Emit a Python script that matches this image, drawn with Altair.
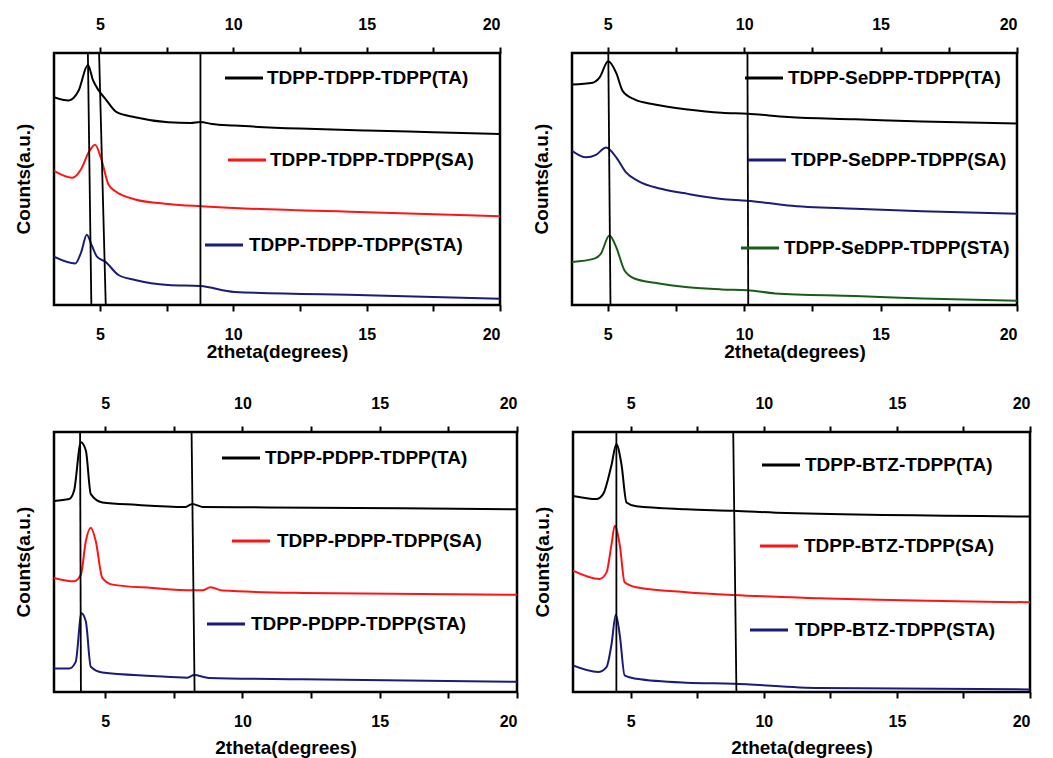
import altair as alt
import pandas as pd

FONT = "Liberation Sans"
BLACK = "#000000"
RED = "#ff1414"
NAVY = "#1b1b78"
GREEN = "#1a5c1a"

# ---------------- Panel 1: TDPP-TDPP-TDPP ----------------
p1_ta_x = [3.28, 3.83, 4.2, 4.55, 4.75, 4.95, 5.2, 5.63, 6.32, 7.56, 8.4, 8.77, 9.2, 10.04, 12.5, 15, 17.5, 20]
p1_ta_y = [82.5, 81.2, 85, 95.2, 89, 85.2, 81.9, 76.5, 74.5, 72.5, 72.2, 72.6, 71.8, 71.2, 70.0, 69.2, 68.6, 67.9]
p1_sa_x = [3.28, 3.96, 4.3, 4.6, 4.82, 5.05, 5.32, 5.57, 6.32, 7.56, 8.77, 10.04, 15, 20]
p1_sa_y = [53.2, 50.5, 54, 61, 63.6, 58, 47.9, 45.2, 41.9, 40.1, 39.2, 38.5, 36.8, 35.2]
p1_sta_x = [3.28, 4.08, 4.3, 4.51, 4.7, 4.89, 5.2, 5.7, 6.32, 7.56, 8.77, 10.04, 15, 20]
p1_sta_y = [19.2, 16.5, 21, 27.9, 23.5, 19.2, 17.2, 11.9, 9.9, 7.9, 7.5, 5.2, 3.9, 2.5]
p1_vline_top = [4.55, 4.97, 8.77]
p1_vline_bot = [4.68, 5.22, 8.77]

# ---------------- Panel 2: TDPP-SeDPP-TDPP ----------------
p2_ta_x = [3.69, 4.45, 4.69, 5.02, 5.31, 5.55, 5.98, 6.72, 7.94, 9.17, 10.12, 11.6, 14.07, 16.52, 20]
p2_ta_y = [87.5, 88.2, 90.1, 96.7, 92.1, 84.9, 81.6, 79.6, 77.6, 76.3, 75.9, 74.6, 73.7, 72.8, 72.0]
p2_sa_x = [3.69, 4.2, 4.57, 4.94, 5.31, 5.67, 6.1, 6.96, 7.94, 9.17, 10.12, 11.6, 14.07, 16.52, 20]
p2_sa_y = [61.2, 58.6, 59.6, 62.5, 58.6, 52.6, 49.3, 46.1, 44.1, 42.1, 41.4, 39.5, 38.2, 37.2, 36.2]
p2_sta_x = [3.69, 4.51, 4.75, 5.06, 5.31, 5.61, 5.98, 6.72, 7.94, 9.17, 10.12, 11.13, 14.07, 16.52, 20]
p2_sta_y = [17.1, 18.4, 20.4, 27.6, 23.0, 13.8, 10.5, 8.8, 7.0, 6.2, 5.9, 4.6, 3.6, 2.6, 1.7]
p2_vline_top = [5.02, 10.12]
p2_vline_bot = [5.10, 10.15]

# ---------------- Panel 3: TDPP-PDPP-TDPP ----------------
p3_ta_x = [3.14, 3.69, 3.87, 4.12, 4.30, 4.48, 4.9, 6.12, 7.93, 8.18, 8.54, 10.96, 15.8, 20]
p3_ta_y = [73.5, 74.2, 77.4, 96.1, 92.9, 76.1, 72.9, 72.0, 71.2, 72.3, 71.2, 71.0, 70.7, 70.3]
p3_sa_x = [3.14, 3.87, 4.12, 4.30, 4.48, 4.66, 4.9, 5.27, 6.72, 8.18, 8.54, 8.84, 9.27, 12.2, 20]
p3_sa_y = [43.9, 42.6, 45.2, 58.1, 63.2, 58.1, 43.9, 41.3, 40.0, 39.1, 39.1, 40.3, 39.0, 38.1, 37.4]
p3_sta_x = [3.14, 3.69, 3.93, 4.14, 4.3, 4.48, 4.9, 6.72, 8.0, 8.24, 8.78, 12.2, 20]
p3_sta_y = [9.0, 9.0, 11.6, 30.3, 27.1, 9.7, 7.5, 6.2, 5.5, 6.5, 5.4, 4.9, 3.9]
p3_vline_top = [4.09, 8.15]
p3_vline_bot = [4.12, 8.26]

# ---------------- Panel 4: TDPP-BTZ-TDPP ----------------
p4_ta_x = [2.83, 3.71, 3.96, 4.27, 4.46, 4.65, 4.84, 5.21, 7.09, 8.85, 10.85, 20]
p4_ta_y = [75.4, 74.2, 76.1, 87.0, 95.3, 87.6, 72.9, 71.4, 70.3, 69.7, 68.8, 67.5]
p4_sa_x = [2.83, 3.83, 4.09, 4.27, 4.4, 4.59, 4.77, 5.21, 7.09, 8.85, 12.1, 20]
p4_sa_y = [46.7, 43.5, 46.0, 56.3, 63.9, 56.3, 42.2, 40.3, 38.4, 37.3, 36.1, 34.5]
p4_sta_x = [2.83, 3.77, 4.09, 4.27, 4.44, 4.59, 4.77, 5.21, 7.09, 8.85, 12.1, 20]
p4_sta_y = [10.2, 7.7, 9.6, 17.9, 29.7, 21.7, 6.4, 5.1, 3.6, 3.2, 1.5, 1.0]
p4_vline_top = [4.46, 8.85]
p4_vline_bot = [4.46, 8.97]

tick_values = [5, 7.5, 10, 12.5, 15, 17.5, 20]
y_title = "Counts(a.u.)"


def panel(series, vtop, vbot, dom, w, h, legend_pos, xtitle_pad):
    xs = alt.Scale(domain=dom, nice=False, zero=False)
    ys = alt.Scale(domain=[0, 100], nice=False, zero=False)
    common = dict(
        values=tick_values,
        labelExpr="datum.value % 5 === 0 ? datum.label : ''",
        grid=False, domain=False, ticks=True, tickSize=6, tickWidth=2,
        tickColor=BLACK, labelFont=FONT, labelFontSize=16,
        labelFontWeight="bold", labelColor=BLACK, labelPadding=15,
    )
    bottom_axis = alt.Axis(
        orient="bottom", title="2theta(degrees)", titlePadding=xtitle_pad,
        titleFont=FONT, titleFontSize=19, titleFontWeight="bold",
        titleColor=BLACK, **common)
    top_axis = alt.Axis(orient="top", title=None, **common)

    layers = []
    for i, (label, color, xv, yv) in enumerate(series):
        df = pd.DataFrame({"x": xv, "y": yv})
        layers.append(
            alt.Chart(df).mark_line(color=color, strokeWidth=2,
                                    interpolate="monotone", clip=True).encode(
                x=alt.X("x:Q", scale=xs, axis=bottom_axis if i == 0 else None),
                y=alt.Y("y:Q", scale=ys, axis=None),
            )
        )
    vdf = pd.DataFrame({"xt": vtop, "xb": vbot})
    layers.append(
        alt.Chart(vdf).mark_rule(color=BLACK, strokeWidth=1.8).encode(
            x=alt.X("xt:Q", scale=xs, axis=top_axis),
            x2="xb:Q",
            y=alt.value(0),
            y2=alt.value(h),
        )
    )
    for (label, color, _, _), (sx, sy, tx) in zip(series, legend_pos):
        ldf = pd.DataFrame({"t": [label]})
        layers.append(
            alt.Chart(ldf).mark_rule(color=color, strokeWidth=3).encode(
                x=alt.value(sx), x2=alt.value(sx + 38), y=alt.value(sy))
        )
        layers.append(
            alt.Chart(ldf).mark_text(align="left", baseline="middle", font=FONT,
                                     fontSize=19, fontWeight="bold",
                                     color=BLACK).encode(
                x=alt.value(tx), y=alt.value(sy), text="t:N")
        )
    # y-axis title (the axis itself carries no ticks or labels)
    tdf = pd.DataFrame({"t": [y_title]})
    layers.append(
        alt.Chart(tdf).mark_text(angle=270, align="center", baseline="middle",
                                 font=FONT, fontSize=19, fontWeight="bold",
                                 color=BLACK).encode(
            x=alt.value(-30), y=alt.value(h / 2), text="t:N")
    )
    return alt.layer(*layers).properties(width=w, height=h).resolve_axis(x="independent")


p1 = panel(
    [("TDPP-TDPP-TDPP(TA)", BLACK, p1_ta_x, p1_ta_y),
     ("TDPP-TDPP-TDPP(SA)", RED, p1_sa_x, p1_sa_y),
     ("TDPP-TDPP-TDPP(STA)", NAVY, p1_sta_x, p1_sta_y)],
    p1_vline_top, p1_vline_bot, [3.28, 20], 446, 252,
    [(171, 25, 213), (174, 107, 216), (151, 192, 195)], 0)

p2 = panel(
    [("TDPP-SeDPP-TDPP(TA)", BLACK, p2_ta_x, p2_ta_y),
     ("TDPP-SeDPP-TDPP(SA)", NAVY, p2_sa_x, p2_sa_y),
     ("TDPP-SeDPP-TDPP(STA)", GREEN, p2_sta_x, p2_sta_y)],
    p2_vline_top, p2_vline_bot, [3.69, 20], 445, 252,
    [(173, 25, 216), (176, 107, 219), (169, 195, 212)], 0)

p3 = panel(
    [("TDPP-PDPP-TDPP(TA)", BLACK, p3_ta_x, p3_ta_y),
     ("TDPP-PDPP-TDPP(SA)", RED, p3_sa_x, p3_sa_y),
     ("TDPP-PDPP-TDPP(STA)", NAVY, p3_sta_x, p3_sta_y)],
    p3_vline_top, p3_vline_bot, [3.14, 20], 463, 260,
    [(168, 26, 211), (178, 109, 223), (153, 192, 197)], 9)

p4 = panel(
    [("TDPP-BTZ-TDPP(TA)", BLACK, p4_ta_x, p4_ta_y),
     ("TDPP-BTZ-TDPP(SA)", RED, p4_sa_x, p4_sa_y),
     ("TDPP-BTZ-TDPP(STA)", NAVY, p4_sta_x, p4_sta_y)],
    p4_vline_top, p4_vline_bot, [2.83, 20], 457, 260,
    [(189, 33, 232), (187, 114, 231), (177, 198, 222)], 9)

chart = alt.vconcat(
    alt.hconcat(p1, p2, spacing=28),
    alt.hconcat(p3, p4, spacing=12),
    spacing=30,
).properties(
    padding={"left": 5, "top": 6, "right": 0, "bottom": 0},
    background="white",
).configure_view(stroke=BLACK, strokeWidth=2.5)

chart.save("out.html", embed_options={"renderer": "svg", "actions": False})
